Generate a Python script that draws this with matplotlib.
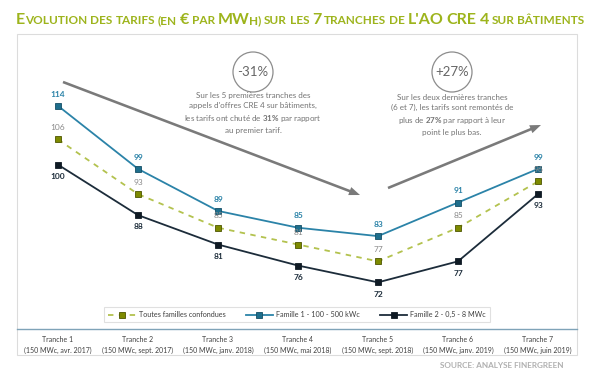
import matplotlib.pyplot as plt
from matplotlib.patches import Circle, Rectangle, FancyArrow

plt.rcParams['font.family'] = ['Lato', 'DejaVu Sans']
plt.rcParams['mathtext.fontset'] = 'custom'
plt.rcParams['mathtext.rm'] = 'Lato'
plt.rcParams['mathtext.bf'] = 'Lato:bold'

tranches = ['Tranche 1', 'Tranche 2', 'Tranche 3', 'Tranche 4', 'Tranche 5', 'Tranche 6', 'Tranche 7']
details = ['(150 MWc, avr. 2017)', '(150 MWc, sept. 2017)', '(150 MWc, janv. 2018)', '(150 MWc, mai 2018)',
           '(150 MWc, sept. 2018)', '(150 MWc, janv. 2019)', '(150 MWc, juin 2019)']
toutes = [106, 93, 85, 81, 77, 85, 96]
famille1 = [114, 99, 89, 85, 83, 91, 99]
famille2 = [100, 88, 81, 76, 72, 77, 93]

c_blue = '#2b83a8'
c_olive = '#b3c24e'
c_oliv_m = '#7d8a00'
c_dark = '#1c2c3a'
c_title = '#9db41c'

fig = plt.figure(figsize=(6, 3.74), dpi=100)

# overlay in pixel coords for decoration
ov = fig.add_axes([0, 0, 1, 1])
ov.set_xlim(0, 600)
ov.set_ylim(374, 0)
ov.axis('off')

# frame
ov.add_patch(Rectangle((17, 34), 560, 321, fill=False, ec='#dcdcdc', lw=0.8))

ax = fig.add_axes([17 / 600, 1 - 329 / 374, 560 / 600, 295 / 374])
ax.patch.set_alpha(0)
x = list(range(len(tranches)))
ax.plot(x, toutes, ls=(0, (3, 3)), color=c_olive, lw=1.3, marker='s', ms=4.8,
        mfc=c_oliv_m, mec='#4d5500', mew=0.6, label='Toutes familles confondues')
ax.plot(x, famille1, color=c_blue, lw=1.3, marker='s', ms=4.8,
        mfc='#1e6e8c', mec='#154f66', mew=0.6, label='Famille 1 - 100 - 500 kWc')
ax.plot(x, famille2, color=c_dark, lw=1.3, marker='s', ms=4.8,
        mfc='#0f1a24', mec='#0f1a24', mew=0.6, label='Famille 2 - 0,5 - 8 MWc')

for i in x:
    ax.annotate(str(famille1[i]), (i, famille1[i]), xytext=(0, 6), textcoords='offset points',
                ha='center', va='bottom', fontsize=6, color=c_blue, fontweight='bold')
    ax.annotate(str(toutes[i]), (i, toutes[i]), xytext=(0, 6), textcoords='offset points',
                ha='center', va='bottom', fontsize=6, color='#8a8a8a')
    ax.annotate(str(famille2[i]), (i, famille2[i]), xytext=(0, -6), textcoords='offset points',
                ha='center', va='top', fontsize=6, color=c_dark, fontweight='bold')

ax.set_xlim(-0.5125, 6.4875)
ax.set_ylim(60.9, 131.1)
for s in ['top', 'left', 'right']:
    ax.spines[s].set_visible(False)
ax.spines['bottom'].set_color('#7fa3b8')
ax.spines['bottom'].set_linewidth(1.0)
ax.set_yticks([])
ax.set_xticks(x)
ax.set_xticklabels([t + '\n' + d for t, d in zip(tranches, details)], fontsize=5.0, color='#404040',
                   linespacing=1.6)
ax.tick_params(axis='x', length=0, pad=5)

leg = ax.legend(loc='lower center', bbox_to_anchor=(0.5, 0.01), ncol=3, fontsize=5.2, frameon=True,
                fancybox=False, edgecolor='#d9d9d9', handlelength=3.8, columnspacing=2.8,
                borderpad=0.55, handletextpad=0.4)
leg.get_frame().set_linewidth(0.8)
for t in leg.get_texts():
    t.set_color('#404040')

# arrows
ov.add_patch(FancyArrow(63, 82, 297, 113, width=2.6, head_width=8.5, head_length=11,
                        length_includes_head=True, color='#7a7a7a', lw=0))
ov.add_patch(FancyArrow(388, 188, 153, -63, width=2.6, head_width=8.5, head_length=11,
                        length_includes_head=True, color='#7a7a7a', lw=0))

# circles & texts
for cx, lbl in [(253, '-31%'), (452, '+27%')]:
    ov.add_patch(Circle((cx, 72), 20, fill=False, ec='#8c8c8c', lw=0.9))
    ov.text(cx, 72, lbl, ha='center', va='center', fontsize=9.5, color='#666666')

ov.text(253, 113, "Sur les 5 premières tranches des\nappels d'offres CRE 4 sur bâtiments,\n"
        "les tarifs ont chuté de $\\mathbf{31\\%}$ par rapport\nau premier tarif.",
        ha='center', va='center', fontsize=5.8, color='#737373', linespacing=1.45)
ov.text(452, 115, "Sur les deux dernières tranches\n(6 et 7), les tarifs sont remontés de\n"
        "plus de $\\mathbf{27\\%}$ par rapport à leur\npoint le plus bas.",
        ha='center', va='center', fontsize=5.8, color='#737373', linespacing=1.45)

# title in small caps, word by word (third item: manual kerning after the piece)
big, small = 11.5, 8.5
words = [[('E', big, 0), ('VOLUTION', small, 0)], [('DES', small, 0)], [('TARIFS', small, 0)],
         [('(EN', small, 0)], [('€', big, 0)], [('PAR', small, 0)], [('MW', big, -1), ('H)', small, 0)],
         [('SUR', small, 0)], [('LES', small, 0)], [('7', big, 0)], [('TRANCHES', small, 0)],
         [('DE', small, 0)], [("L'AO", big, 0)], [('CRE', big, 0)], [('4', big, 0)],
         [('SUR', small, 0)], [('BÂTIMENTS', small, 0)]]
fig.canvas.draw()
r = fig.canvas.get_renderer()
probe = fig.text(0, 0, 'A A', fontsize=small, fontweight='bold')
probe2 = fig.text(0, 0, 'AA', fontsize=small, fontweight='bold')
space = probe.get_window_extent(r).width - probe2.get_window_extent(r).width
probe.remove()
probe2.remove()
xpos = 16
for word in words:
    for txt, sz, kern in word:
        t = fig.text(xpos / 600, 1 - 24 / 374, txt, fontsize=sz, color=c_title, fontweight='bold',
                     ha='left', va='baseline')
        xpos += t.get_window_extent(r).width + kern
    xpos += space

fig.text(563 / 600, 1 - 365 / 374, 'SOURCE: ANALYSE FINERGREEN', ha='right', va='center',
         fontsize=5.9, color='#b0b0b0', fontweight='bold')

fig.savefig('out.png', dpi=100)
